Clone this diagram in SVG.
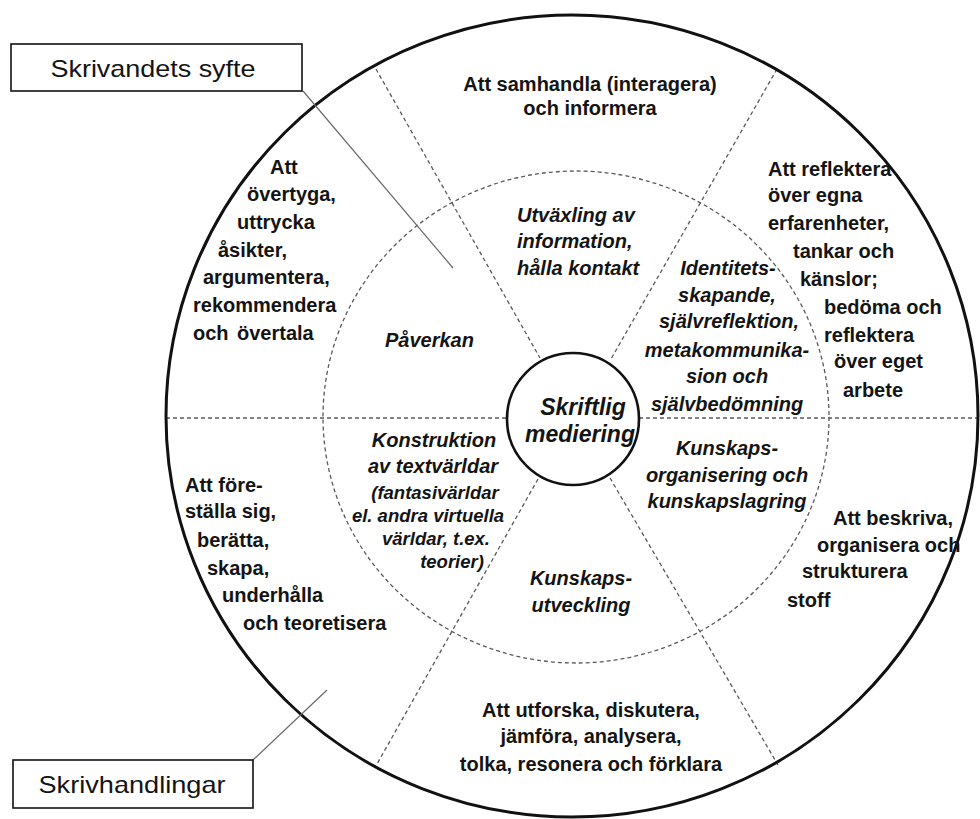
<svg xmlns="http://www.w3.org/2000/svg" width="980" height="819" viewBox="0 0 980 819">
  <style>
    text { font-family: "Liberation Sans", Arial, sans-serif; fill: #141414; }
    .b { font-size: 20px; font-weight: bold; }
    .bi { font-size: 20px; font-weight: bold; font-style: italic; }
    .si { font-size: 18.5px; font-weight: bold; font-style: italic; }
    .c { text-anchor: middle; }
    .label { font-size: 24px; text-anchor: middle; }
    .dash { fill: none; stroke: #5a5a5a; stroke-width: 1.3; stroke-dasharray: 4 3; }
    .box { fill: #fff; stroke: #111; stroke-width: 1.6; }
    .lead { stroke: #6a6a6a; stroke-width: 1.2; fill: none; }
  </style>

  <rect width="980" height="819" fill="#fff"/>

  <!-- wheel structure: rings and sector dividers -->
  <g id="wheel">
    <ellipse cx="576" cy="417" rx="253" ry="246" class="dash"/>
    <line x1="166" y1="418" x2="507" y2="418" class="dash"/>
    <line x1="639" y1="418" x2="978" y2="418" class="dash"/>
    <line x1="376" y1="69" x2="540" y2="358" class="dash"/>
    <line x1="777" y1="69" x2="611" y2="359" class="dash"/>
    <line x1="538" y1="479" x2="377" y2="764" class="dash"/>
    <line x1="610" y1="478" x2="778" y2="765" class="dash"/>
    <ellipse cx="572" cy="416" rx="406" ry="401" fill="none" stroke="#111" stroke-width="3"/>
  </g>

  <!-- centre -->
  <g id="centre">
    <circle cx="573" cy="419" r="66" fill="#fff" stroke="#111" stroke-width="2.6"/>
    <text x="583" y="415" class="c" style="font-size:23px;font-weight:bold;font-style:italic">Skriftlig</text>
    <text x="580" y="442" class="c" style="font-size:23px;font-weight:bold;font-style:italic">mediering</text>
  </g>

  <!-- inner ring: functions -->
  <g id="paverkan">
    <text x="385" y="347" class="bi">Påverkan</text>
  </g>
  <g id="utvaxling">
    <text x="517" y="222" class="bi">Utväxling av</text>
    <text x="517" y="248" class="bi">information,</text>
    <text x="517" y="275" class="bi">hålla kontakt</text>
  </g>
  <g id="identitet">
    <text x="728" y="275" class="bi c">Identitets-</text>
    <text x="727" y="302" class="bi c">skapande,</text>
    <text x="729" y="328" class="bi c">självreflektion,</text>
    <text x="727" y="357" class="bi c">metakommunika-</text>
    <text x="727" y="383" class="bi c">sion och</text>
    <text x="727" y="411" class="bi c">självbedömning</text>
  </g>
  <g id="kunskapsorganisering">
    <text x="727" y="455" class="bi c">Kunskaps-</text>
    <text x="727" y="482" class="bi c">organisering och</text>
    <text x="727" y="508" class="bi c">kunskapslagring</text>
  </g>
  <g id="kunskapsutveckling">
    <text x="581" y="585" class="bi c">Kunskaps-</text>
    <text x="581" y="612" class="bi c">utveckling</text>
  </g>
  <g id="konstruktion">
    <text x="434" y="447" class="bi c">Konstruktion</text>
    <text x="433" y="473" class="bi c">av textvärldar</text>
    <text x="435" y="499" class="si c">(fantasivärldar</text>
    <text x="428" y="522" class="si c">el. andra virtuella</text>
    <text x="436" y="545" class="si c">världar, t.ex.</text>
    <text x="452" y="568" class="si c">teorier)</text>
  </g>

  <!-- outer ring: writing acts -->
  <g id="samhandla">
    <text x="590" y="91" class="b c">Att samhandla (interagera)</text>
    <text x="590" y="115" class="b c">och informera</text>
  </g>
  <g id="reflektera">
    <text x="768" y="176" class="b">Att reflektera</text>
    <text x="768" y="202" class="b">över egna</text>
    <text x="768" y="230" class="b">erfarenheter,</text>
    <text x="793" y="258" class="b">tankar och</text>
    <text x="800" y="286" class="b">känslor;</text>
    <text x="824" y="314" class="b">bedöma och</text>
    <text x="824" y="342" class="b">reflektera</text>
    <text x="834" y="368" class="b">över eget</text>
    <text x="843" y="397" class="b">arbete</text>
  </g>
  <g id="beskriva">
    <text x="833" y="525" class="b">Att beskriva,</text>
    <text x="817" y="552" class="b">organisera och</text>
    <text x="802" y="578" class="b">strukturera</text>
    <text x="787" y="607" class="b">stoff</text>
  </g>
  <g id="utforska">
    <text x="591" y="717" class="b c">Att utforska, diskutera,</text>
    <text x="591" y="743" class="b c">jämföra, analysera,</text>
    <text x="591" y="771" class="b c">tolka, resonera och förklara</text>
  </g>
  <g id="forestalla">
    <text x="185" y="492" class="b">Att före-</text>
    <text x="185" y="518" class="b">ställa sig,</text>
    <text x="197" y="547" class="b">berätta,</text>
    <text x="207" y="575" class="b">skapa,</text>
    <text x="222" y="602" class="b">underhålla</text>
    <text x="243" y="630" class="b">och teoretisera</text>
  </g>
  <g id="overtyga">
    <text x="270" y="174" class="b">Att</text>
    <text x="247" y="201" class="b">övertyga,</text>
    <text x="237" y="229" class="b">uttrycka</text>
    <text x="218" y="257" class="b">åsikter,</text>
    <text x="203" y="284" class="b">argumentera,</text>
    <text x="193" y="312" class="b">rekommendera</text>
    <text x="193" y="340" class="b">och <tspan x="237">övertala</tspan></text>
  </g>

  <!-- leader lines from the legend boxes -->
  <g id="connectors">
    <line x1="303" y1="91" x2="453" y2="268" class="lead"/>
    <line x1="253" y1="760" x2="327" y2="690" class="lead"/>
  </g>

  <!-- legend boxes -->
  <g id="syfte-label">
    <rect x="11" y="44" width="291" height="47" class="box"/>
    <text x="153" y="77" class="label" textLength="205" lengthAdjust="spacingAndGlyphs">Skrivandets syfte</text>
  </g>
  <g id="skrivhandlingar-label">
    <rect x="13" y="760" width="240" height="48" class="box"/>
    <text x="132" y="793" class="label" textLength="187" lengthAdjust="spacingAndGlyphs">Skrivhandlingar</text>
  </g>
</svg>
